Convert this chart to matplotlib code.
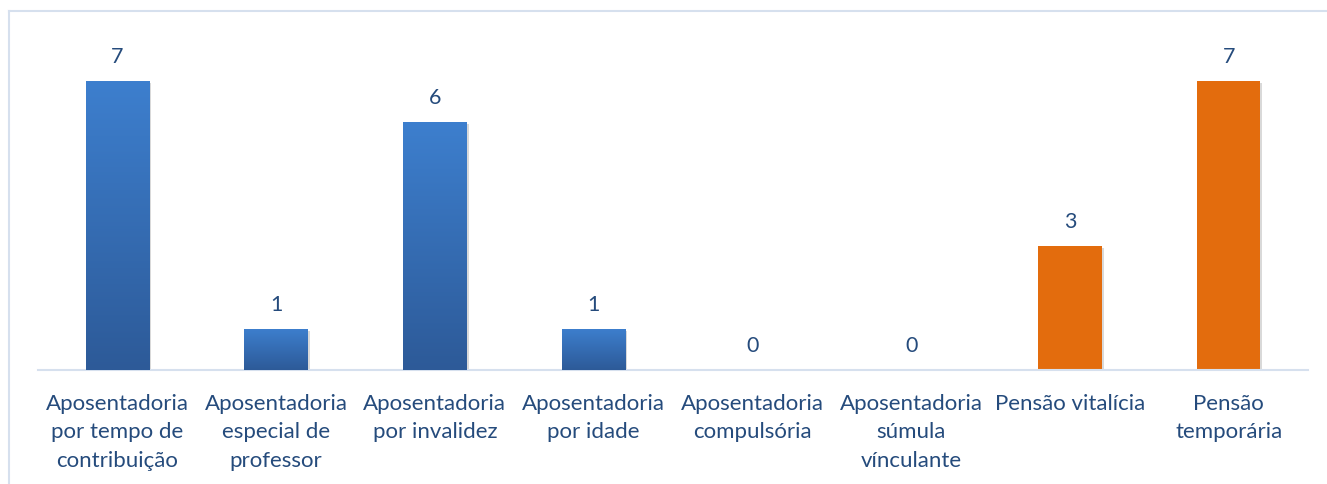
import matplotlib.pyplot as plt
import numpy as np
from matplotlib import patheffects
from matplotlib.lines import Line2D

# categories and counts
categories = [
    "Aposentadoria\npor tempo de\ncontribuição",
    "Aposentadoria\nespecial de\nprofessor",
    "Aposentadoria\npor invalidez",
    "Aposentadoria\npor idade",
    "Aposentadoria\ncompulsória",
    "Aposentadoria\nsúmula\nvínculante",
    "Pensão vitalícia",
    "Pensão\ntemporária",
]
values = [7, 1, 6, 1, 0, 0, 3, 7]
is_pension = [False, False, False, False, False, False, True, True]

text_color = "#254B7C"
blue_top = np.array([0x3D, 0x7F, 0xCE]) / 255
blue_bottom = np.array([0x2D, 0x5A, 0x98]) / 255
orange = "#E36C0D"

plt.rcParams['font.family'] = ['Lato', 'DejaVu Sans']

W, H = 1327, 484
fig = plt.figure(figsize=(W / 100, H / 100), dpi=100)
ax = fig.add_axes([38 / W, (H - 370) / H, 1270 / W, (370 - 11) / H])

x = np.arange(len(values))
colors = [orange if p else blue_top for p in is_pension]
bars = ax.bar(x, values, width=0.4, color=colors, zorder=2)

shadow = [patheffects.SimplePatchShadow(offset=(1.5, -1.5), shadow_rgbFace='#000000', alpha=0.15),
          patheffects.Normal()]

# vertical gradient for the blue bars
grad = np.linspace(0, 1, 256)[:, None]
grad_img = blue_bottom[None, None, :] * (1 - grad[..., None]) + blue_top[None, None, :] * grad[..., None]
for b, p in zip(bars, is_pension):
    b.set_path_effects(shadow)
    if p or b.get_height() == 0:
        continue
    x0, y0 = b.get_x(), b.get_y()
    im = ax.imshow(grad_img, extent=(x0, x0 + b.get_width(), y0, y0 + b.get_height()),
                   origin='lower', aspect='auto', zorder=3, interpolation='bilinear')
    im.set_clip_path(b)

for xi, v in zip(x, values):
    ax.annotate(str(v), (xi, v), xytext=(0, 10), textcoords='offset points',
                ha='center', va='bottom', fontsize=15.5, color=text_color)

ax.set_xlim(-0.5, len(values) - 0.5)
ax.set_ylim(0, (370 - 11) / (289 / 7))
ax.set_xticks(x)
ax.set_xticklabels(categories, fontsize=16, color=text_color, linespacing=1.55)
ax.tick_params(axis='x', length=0, pad=17)
ax.set_yticks([])
for s in ['top', 'right', 'left']:
    ax.spines[s].set_visible(False)
ax.spines['bottom'].set_color('#D6E0EE')
ax.spines['bottom'].set_linewidth(1.5)

# outer chart frame (top and left edges visible)
fig.add_artist(Line2D([9 / W, 1], [1 - 11 / H, 1 - 11 / H], color='#D6E0EE', lw=1.5, transform=fig.transFigure))
fig.add_artist(Line2D([9 / W, 9 / W], [0, 1 - 11 / H], color='#D6E0EE', lw=1.5, transform=fig.transFigure))

fig.savefig('out.png', dpi=100, facecolor='white')
